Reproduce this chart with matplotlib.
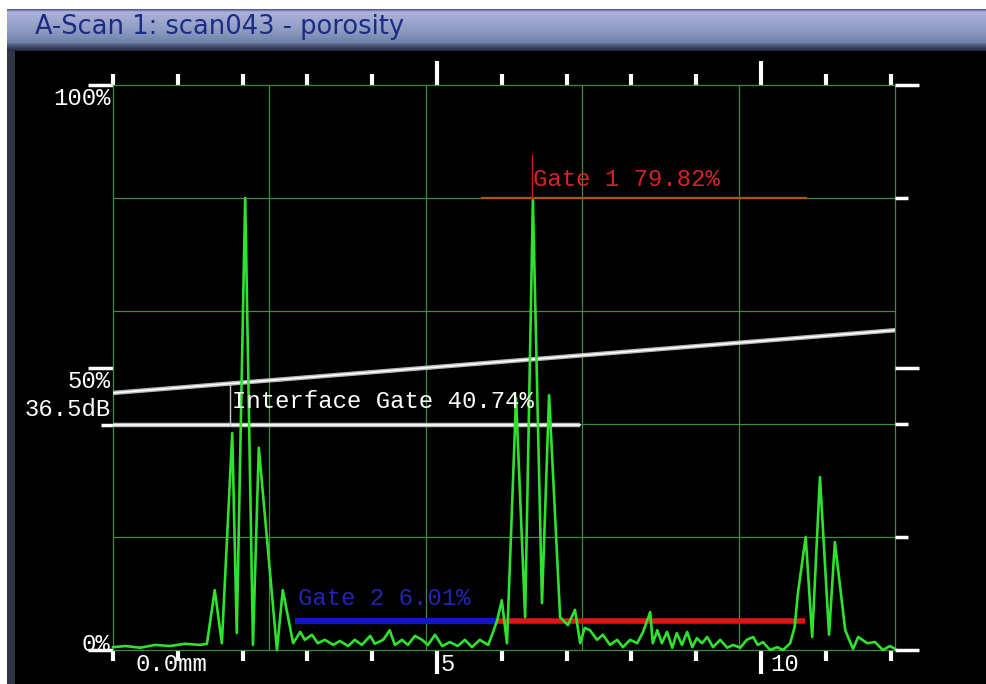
import numpy as np
import matplotlib
matplotlib.use("Agg")
import matplotlib.pyplot as plt
import matplotlib.transforms as mtransforms
from matplotlib.patches import Rectangle

# A-scan trace (depth in mm, amplitude in % full screen height)
depth_mm = [0.00, 0.19, 0.42, 0.65, 0.88, 1.11, 1.34, 1.45, 1.57, 1.68,
            1.84, 1.91, 2.04, 2.16, 2.25, 2.53, 2.62, 2.78, 2.89, 2.96,
            3.07, 3.16, 3.27, 3.40, 3.50, 3.63, 3.73, 3.84, 3.97, 4.04,
            4.17, 4.27, 4.35, 4.46, 4.55, 4.66, 4.77, 4.86, 4.97, 5.08,
            5.20, 5.32, 5.43, 5.54, 5.66, 5.79, 5.86, 5.93, 6.00, 6.08,
            6.22, 6.36, 6.48, 6.62, 6.73, 6.90, 7.02, 7.13, 7.21, 7.28,
            7.36, 7.47, 7.56, 7.67, 7.78, 7.87, 7.98, 8.09, 8.18, 8.29,
            8.33, 8.40, 8.47, 8.55, 8.63, 8.70, 8.78, 8.86, 8.94, 9.01,
            9.09, 9.17, 9.26, 9.37, 9.48, 9.57, 9.68, 9.78, 9.88, 9.95,
            10.03, 10.14, 10.25, 10.34, 10.45, 10.52, 10.57, 10.69, 10.79, 10.91,
            11.05, 11.14, 11.30, 11.42, 11.50, 11.64, 11.76, 11.88, 11.99, 12.07]
amp_pct = [0.5, 0.7, 0.4, 0.9, 0.7, 1.1, 0.9, 1.1, 10.6, 1.2,
           38.4, 3.0, 80.0, 0.9, 35.8, 0.0, 10.6, 1.2, 3.2, 1.8,
           2.7, 1.2, 1.8, 0.9, 1.6, 0.7, 1.8, 0.9, 2.5, 1.1,
           1.8, 3.5, 0.9, 1.8, 0.9, 2.5, 1.8, 0.9, 2.7, 0.7,
           1.4, 0.7, 1.8, 0.5, 1.8, 0.9, 3.0, 5.3, 8.8, 1.2,
           44.6, 5.8, 79.6, 8.3, 45.1, 5.8, 4.4, 7.1, 1.2, 3.9,
           3.5, 1.8, 2.7, 0.9, 1.8, 0.5, 1.8, 1.2, 3.2, 6.7,
           1.2, 3.5, 1.2, 3.2, 0.4, 3.0, 0.9, 3.2, 0.5, 2.1,
           1.2, 2.3, 0.5, 1.8, 0.4, 0.9, 0.4, 1.8, 2.3, 0.9,
           1.4, 0.0, 0.5, 0.0, 1.2, 4.1, 10.1, 20.0, 2.3, 30.6,
           2.7, 19.1, 3.5, 0.2, 2.3, 1.2, 1.4, 0.0, 0.7, 0.2]

# gates: start mm, end mm, level %
dac_x = [0.0, 12.07]
dac_y = [45.5, 56.6]
interface_gate = [0.0, 7.21, 39.8]
gate1 = [5.69, 10.69, 80.0]
gate2 = [2.81, 5.93, 5.1]
gate2_after = [5.93, 10.68, 5.1]
interface_label = "Interface Gate 40.74%"
gate1_label = "Gate 1 79.82%"
gate2_label = "Gate 2 6.01%"
title = "A-Scan 1: scan043 - porosity"

x_max = 12.068
W, H = 987, 684
mono = "Liberation Mono"
fs = 17.2
grid_green = "#3e8a3e"

fig = plt.figure(figsize=(W / 100, H / 100), dpi=100, facecolor="white")

# window frame
fig.add_artist(Rectangle((7 / W, 0), 1 - 7 / W, 1 - 9 / H, transform=fig.transFigure,
                         facecolor="black", edgecolor="none", zorder=-20))
fig.add_artist(Rectangle((7 / W, 0), 8 / W, 1 - 50 / H, transform=fig.transFigure,
                         facecolor="#2e3646", edgecolor="none", zorder=-19))

# title bar gradient
tb = fig.add_axes([7 / W, 1 - 51 / H, 1 - 7 / W, 42 / H])
stops = np.array([[0.30, 0.33, 0.58], [0.68, 0.70, 0.86], [0.56, 0.61, 0.76],
                  [0.44, 0.51, 0.67], [0.30, 0.35, 0.50], [0.14, 0.17, 0.24]])
pos = np.array([0.0, 0.06, 0.5, 0.8, 0.86, 1.0])
t = np.linspace(0, 1, 60)
grad = np.stack([np.interp(t, pos, stops[:, c]) for c in range(3)], axis=1)[:, None, :]
tb.imshow(grad, aspect="auto", extent=[0, 1, 0, 1])
tb.set_axis_off()
fig.text(35 / W, 1 - 27 / H, title, color="#1c2c84", fontsize=18.5,
         family="DejaVu Sans", ha="left", va="center")

# plot area
ax = fig.add_axes([113 / W, 34 / H, 782 / W, 565 / H])
ax.set_facecolor("black")
ax.set_xlim(0, x_max)
ax.set_ylim(0, 100)
for s in ax.spines.values():
    s.set_color(grid_green)
    s.set_linewidth(0.9)
for gx in np.linspace(0, x_max, 6)[1:-1]:
    ax.axvline(gx, color=grid_green, lw=0.9, zorder=1)
for gy in [20, 40, 60, 80]:
    ax.axhline(gy, color=grid_green, lw=0.9, zorder=1)

# ticks
ax.set_xticks([5, 10])
ax.set_xticks([i for i in range(13) if i not in (5, 10)], minor=True)
ax.set_yticks([0, 50, 100])
ax.set_yticks([interface_gate[2]], minor=True)
ax.tick_params(axis="x", which="both", top=True, bottom=True, direction="out",
               color="white", width=3, labelbottom=False, labeltop=False)
ax.tick_params(axis="x", which="major", length=17)
ax.tick_params(axis="x", which="minor", length=8)
ax.tick_params(axis="y", which="both", left=True, right=False, direction="out",
               color="white", width=2.5, labelleft=False)
ax.tick_params(axis="y", which="major", length=18)
ax.tick_params(axis="y", which="minor", length=9)

ax2 = ax.twinx()
ax2.set_ylim(0, 100)
ax2.set_yticks([0, 50, 100])
ax2.set_yticks([20, 40, 80], minor=True)
ax2.tick_params(axis="y", which="both", direction="out", color="white",
                width=2.5, labelright=False)
ax2.tick_params(axis="y", which="major", length=17)
ax2.tick_params(axis="y", which="minor", length=9)
for s in ax2.spines.values():
    s.set_visible(False)

# gates
ax.plot(dac_x, dac_y, color="#b8b8b8", lw=3.2, zorder=3, solid_capstyle="butt")
ax.plot(dac_x, dac_y, color="white", lw=1.2, zorder=3)
ax.plot(interface_gate[:2], [interface_gate[2]] * 2, color="#b8b8b8", lw=3.2, zorder=3,
        solid_capstyle="butt")
ax.plot(interface_gate[:2], [interface_gate[2]] * 2, color="white", lw=1.2, zorder=3)
ax.plot([1.81, 1.81], [interface_gate[2], 47.0], color="#c8c8c8", lw=1, zorder=3)
ax.plot(gate1[:2], [gate1[2]] * 2, color="#a8541c", lw=1.6, zorder=3)
ax.plot([6.47, 6.47], [gate1[2], 87.6], color="#c02020", lw=1, zorder=3)
ax.plot(gate2[:2], [gate2[2]] * 2, color="#1212d8", lw=4.5, zorder=3, solid_capstyle="butt")
ax.plot(gate2_after[:2], [gate2_after[2]] * 2, color="#e01414", lw=4, zorder=3,
        solid_capstyle="butt")

# trace
ax.plot(depth_mm, amp_pct, color="#2ee22e", lw=1.9, zorder=4, clip_on=False)

# gate labels
ax.text(1.84, 43.9, interface_label, color="white", fontsize=fs, family=mono,
        ha="left", va="center", zorder=5)
ax.text(6.48, 83.2, gate1_label, color="#d42424", fontsize=fs, family=mono,
        ha="left", va="center", zorder=5)
ax.text(2.85, 9.2, gate2_label, color="#2424b4", fontsize=fs, family=mono,
        ha="left", va="center", zorder=5)

# axis labels
left = mtransforms.blended_transform_factory(ax.transAxes, ax.transData)
for y, s in [(97.6, "100%"), (47.6, "50%"), (42.6, "36.5dB"), (0.9, "0%")]:
    ax.text(-0.003, y, s, transform=left, color="white", fontsize=fs, family=mono,
            ha="right", va="center", clip_on=False)
for x, s in [(0.34, "0.0mm"), (5.06, "5"), (10.15, "10")]:
    ax.text(x, -2.5, s, color="white", fontsize=fs, family=mono,
            ha="left", va="center", clip_on=False)

fig.savefig("out.png", dpi=100, facecolor=fig.get_facecolor())
